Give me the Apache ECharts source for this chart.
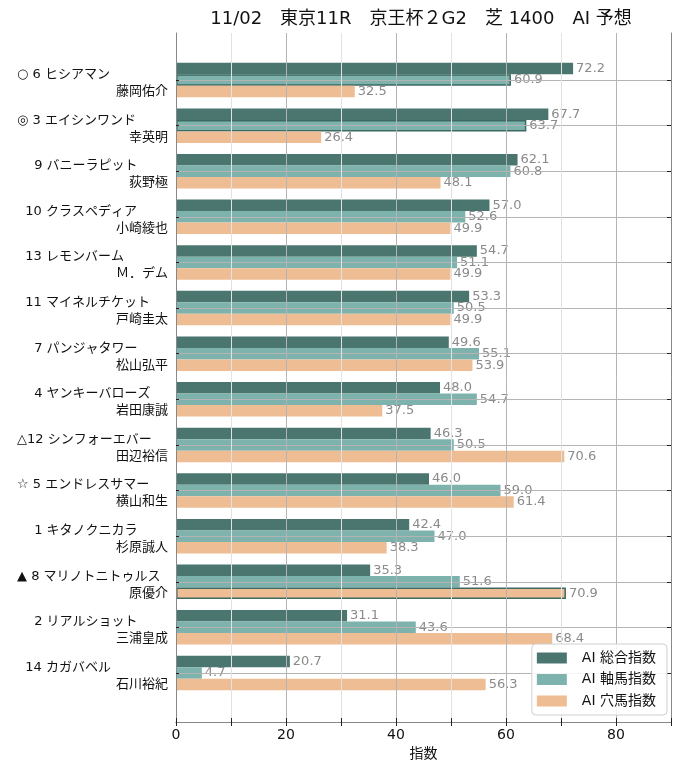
<!DOCTYPE html>
<html>
<head>
<meta charset="utf-8">
<script src="https://cdn.jsdelivr.net/npm/echarts@6/dist/echarts.min.js"></script>
<style>html,body{margin:0;padding:0;background:#fff}#c{width:680px;height:770px}</style>
</head>
<body>
<div id="c"></div>
<script>
const titleText = '11/02\u3000東京11R\u3000京王杯２G2\u3000芝 1400\u3000AI 予想';
const marks = ['○','◎','','','','','','','△','☆','','▲','',''];
const nums = ['6','3','9','10','13','11','7','4','12','5','1','8','2','14'];
const horses = ['ヒシアマン','エイシンワンド','バニーラピット','クラスペディア','レモンバーム','マイネルチケット','パンジャタワー','ヤンキーバローズ','シンフォーエバー','エンドレスサマー','キタノクニカラ','マリノトニトゥルス','リアルショット','カガバベル'];
const jockeys = ['藤岡佑介','幸英明','荻野極','小崎綾也','Ｍ．デム','戸崎圭太','松山弘平','岩田康誠','田辺裕信','横山和生','杉原誠人','原優介','三浦皇成','石川裕紀'];
const seriesNames = ['AI 総合指数','AI 軸馬指数','AI 穴馬指数'];
const sougou = [72.2,67.7,62.1,57.0,54.7,53.3,49.6,48.0,46.3,46.0,42.4,35.3,31.1,20.7];
const jiku   = [60.9,63.7,60.8,52.6,51.1,50.5,55.1,54.7,50.5,59.0,47.0,51.6,43.6,4.7];
const ana    = [32.5,26.4,48.1,49.9,49.9,49.9,53.9,37.5,70.6,61.4,38.3,70.9,68.4,56.3];
const outlined = [[], [0,1], [11]];
const xTicks = [0,20,40,60,80];

const FONT = "'DejaVu Sans','Noto Sans CJK JP',sans-serif";
const colors = ['#4b766f','#7eb3ad','#eebd93'];
const cats = ['top'].concat(horses.map((_,i)=>'c'+i)).concat(['bottom']);
const isEnd = v => (v === 'top' || v === 'bottom');

function horseLine(i){
  const m = marks[i], n = nums[i];
  let prefix;
  if (m) prefix = m + (n.length===1 ? ' ' : '');
  else prefix = (n.length===1 ? '\u3000 ' : '\u2007');
  return prefix + n + ' ' + horses[i];
}

function mkData(arr, si){
  return [null].concat(arr.map((v,i)=>{
    if (outlined[si].indexOf(i) >= 0) {
      return {value:v, itemStyle:{borderColor:'#3c6a63', borderWidth:1.5}};
    }
    return v;
  })).concat([null]);
}

const series = [sougou, jiku, ana].map((arr, si)=>({
  name: seriesNames[si],
  type: 'bar',
  xAxisIndex: 2, yAxisIndex: 2,
  data: mkData(arr, si),
  barWidth: 11.5,
  barGap: '0%',
  itemStyle: {color: colors[si]},
  label: {
    show: true, position: 'right', distance: 3,
    color: '#8a8a8a', fontSize: 13, fontFamily: FONT,
    formatter: p => (p.value == null ? '' : Number(p.value).toFixed(1))
  },
  emphasis: {disabled: true},
  z: 2
}));

const hiddenAxisParts = {axisLine:{show:false}, axisTick:{show:false}, axisLabel:{show:false}, splitLine:{show:false}};

const chart = echarts.init(document.getElementById('c'), null, {renderer:'canvas'});
chart.setOption({
  animation: false,
  backgroundColor: '#fff',
  title: {
    text: titleText, left: 416, top: 5, textAlign: 'center',
    textStyle: {fontFamily: FONT, fontSize: 18, fontWeight: 'normal', color: '#111'}
  },
  grid: [
    {left: 176, right: 9, top: 33, bottom: 48, containLabel: false},
    {left: 176, right: 9, top: 34.4, bottom: 51.4, containLabel: false}
  ],
  legend: {
    orient: 'vertical', right: 13, bottom: 55,
    data: seriesNames,
    icon: 'rect', itemWidth: 30, itemHeight: 11, itemGap: 7.5,
    padding: [7, 11, 7, 5],
    backgroundColor: 'rgba(255,255,255,0.85)',
    borderColor: '#d0d0d0', borderWidth: 1, borderRadius: 4,
    textStyle: {fontFamily: FONT, fontSize: 14, color: '#111', lineHeight: 14, padding: [0,0,0,10]},
    z: 20
  },
  xAxis: [
    {
      gridIndex: 0, type: 'value', position: 'bottom', min: 0, max: 90, interval: 10,
      name: '指数', nameLocation: 'middle', nameGap: 25,
      nameTextStyle: {fontFamily: FONT, fontSize: 14, color: '#111'},
      axisLine: {show: true, lineStyle: {color: '#888', width: 1}},
      axisTick: {show: true, inside: true, length: 4, lineStyle: {color: '#222'}},
      axisLabel: {
        margin: 6, fontFamily: FONT, fontSize: 14, color: '#111',
        formatter: v => (xTicks.indexOf(v) >= 0 ? String(v) : '')
      },
      splitLine: {show: true, lineStyle: {color: ['#b4b4b4','#e2e2e2'], width: 1}},
      z: 5
    },
    {
      gridIndex: 0, type: 'value', position: 'top', min: 0, max: 90, interval: 10,
      axisLine: {show: true, lineStyle: {color: '#888', width: 1}},
      axisTick: {show: true, inside: true, length: 4, lineStyle: {color: '#222'}},
      axisLabel: {show: false},
      splitLine: {show: false},
      z: 5
    },
    Object.assign({gridIndex: 1, type: 'value', min: 0, max: 90, interval: 10}, hiddenAxisParts)
  ],
  yAxis: [
    {
      gridIndex: 0, type: 'value', position: 'left', min: 0, max: 1,
      axisLine: {show: true, onZero: false, lineStyle: {color: '#888', width: 1}},
      axisTick: {show: false}, axisLabel: {show: false}, splitLine: {show: false},
      z: 5
    },
    {
      gridIndex: 0, type: 'value', position: 'right', min: 0, max: 1,
      axisLine: {show: true, onZero: false, lineStyle: {color: '#888', width: 1}},
      axisTick: {show: false}, axisLabel: {show: false}, splitLine: {show: false},
      z: 5
    },
    {
      gridIndex: 1, type: 'category', data: cats, inverse: true, boundaryGap: false, position: 'left',
      axisLine: {show: false},
      axisTick: {show: true, inside: true, length: 3, interval: (i, v) => !isEnd(v), lineStyle: {color: '#222'}},
      axisLabel: {
        interval: 0, margin: 8, lineHeight: 17, padding: [6, 0, 0, 0],
        formatter: (v, idx) => {
          const i = idx - 1;
          if (i < 0 || i >= horses.length) return '';
          return '{h|' + horseLine(i) + '}\n{j|' + jockeys[i] + '}';
        },
        rich: {
          h: {width: 151, align: 'left', fontFamily: FONT, fontSize: 13, color: '#111', lineHeight: 17},
          j: {align: 'right', fontFamily: FONT, fontSize: 13, color: '#111', lineHeight: 17}
        }
      },
      splitLine: {show: true, interval: (i, v) => !isEnd(v), lineStyle: {color: '#b4b4b4', width: 1}},
      z: 5
    },
    {
      gridIndex: 1, type: 'category', data: cats, inverse: true, boundaryGap: false, position: 'right',
      axisLine: {show: false},
      axisTick: {show: true, inside: true, length: 4, interval: (i, v) => !isEnd(v), lineStyle: {color: '#222'}},
      axisLabel: {show: false},
      splitLine: {show: false},
      z: 5
    }
  ],
  series: series
});
</script>
</body>
</html>
